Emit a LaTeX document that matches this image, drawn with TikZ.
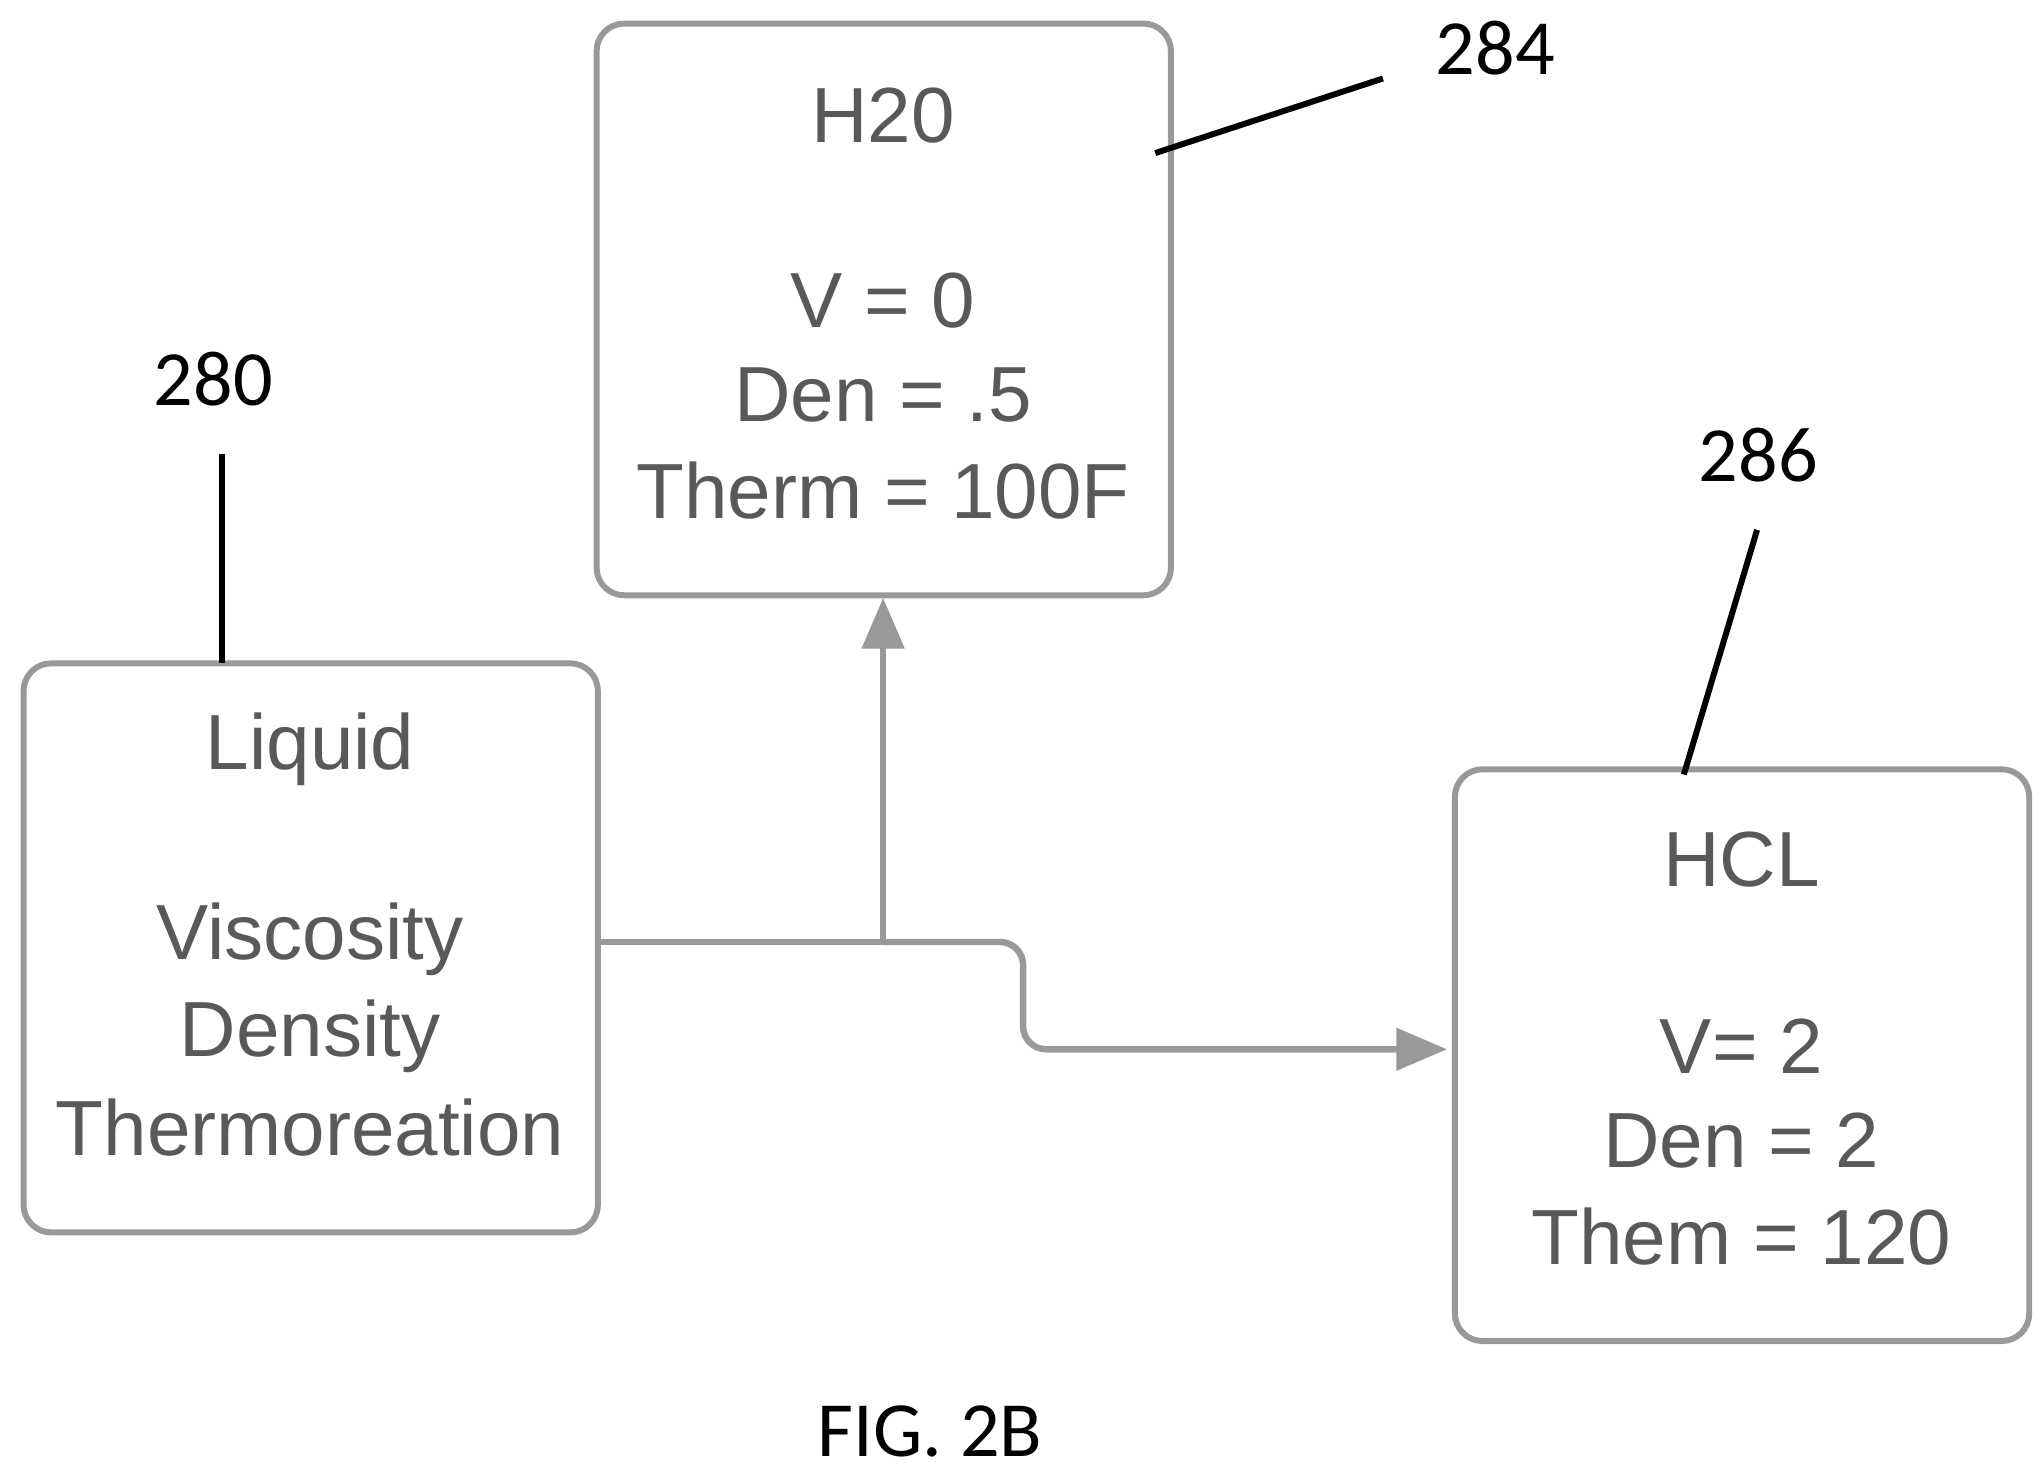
\documentclass[tikz,border=0pt]{standalone}
\usepackage{fontspec}
\setmainfont{Liberation Sans}
\newfontfamily\labfont{Carlito}
\usetikzlibrary{arrows.meta}
\begin{document}
\begin{tikzpicture}[x=0.01cm,y=-0.01cm,
  box/.style={draw=gray!80,line width=1.3pt,rounded corners=6pt},
  txt/.style={text=gray!70!black,font=\fontsize{17}{20}\selectfont},
  lab/.style={font=\labfont\fontsize{17}{20}\selectfont},
  lead/.style={line width=1.3pt,black},
  conn/.style={draw=gray!80,line width=1.4pt}]
\useasboundingbox (0,0) rectangle (1560,1125);
\draw[box] (18,507) rectangle (457,942);
\draw[box] (456,18) rectangle (895,455);
\draw[box] (1112,588) rectangle (1551,1025);
\node[txt] (liq) at (237,573) {Liquid};
\node[txt] at (237,718) {Viscosity};
\node[txt] at (237,792) {Density};
\node[txt] at (237,862) {Thermoreation};
\node[txt] (h2o) at (675,88) {H20};
\node[txt] at (675,230) {V = 0};
\node[txt] at (675,302) {Den = .5};
\node[txt] at (675,375) {Therm = 100F};
\node[txt] (hcl) at (1331,657) {HCL};
\node[txt] at (1331,800) {V= 2};
\node[txt] at (1331,872) {Den = 2};
\node[txt] at (1331,945) {Them = 120};
\node[lab] (l280) at (163,290) {280};
\node[lab] (l284) at (1143,37) {284};
\node[lab] (l286) at (1344,348) {286};
\node[lab] (fig) at (711,1094) {FIG. 2B};
\coordinate (a1) at (170,347); \coordinate (a2) at (170,507);
\coordinate (b1) at (1057,60); \coordinate (b2) at (883,117);
\coordinate (c1) at (1343,405); \coordinate (c2) at (1287,592);
\draw[lead] (a1)--(a2); \draw[lead] (b1)--(b2); \draw[lead] (c1)--(c2);
\coordinate (s) at (457,720); \coordinate (j) at (675,720);
\coordinate (t1) at (675,457); \coordinate (t2) at (1106,802);
\draw[conn,-{Triangle[length=11pt,width=9pt]}] (s)--(j)--(t1);
\draw[conn,rounded corners=5pt,-{Triangle[length=11pt,width=9pt]}] (j)--(782,720)--(782,802)--(t2);
\end{tikzpicture}
\end{document}
